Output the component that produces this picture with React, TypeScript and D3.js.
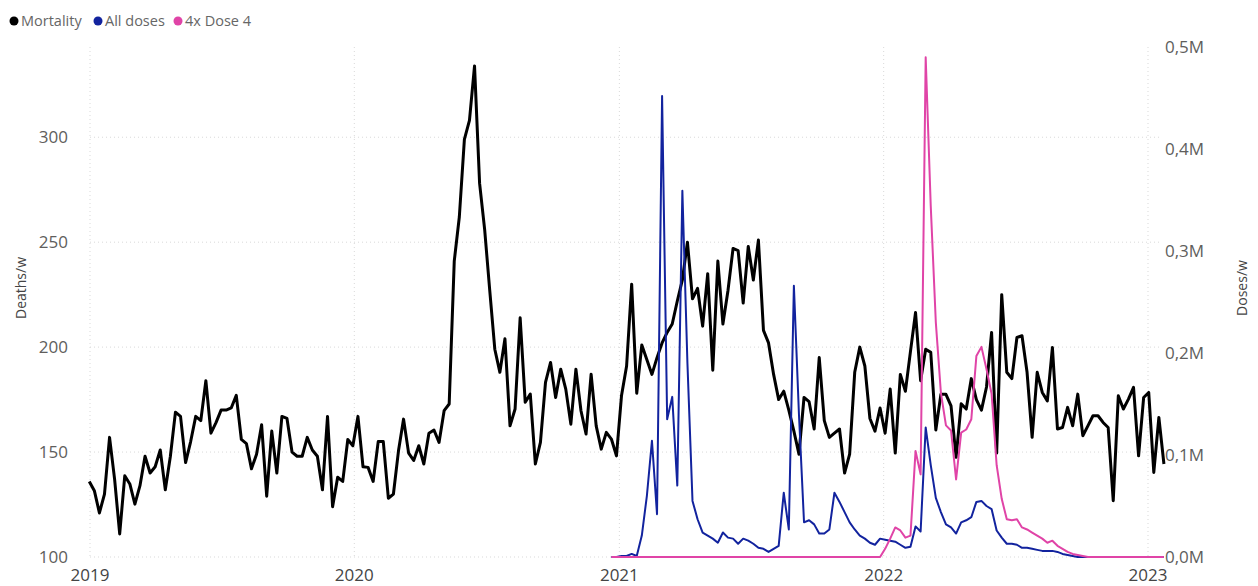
import React from 'react';
import * as d3 from 'd3';

// Weekly series, first week starting Monday 2018-12-31
const FIRST_WEEK = Date.UTC(2018, 11, 31);

const mortality: number[] = [
  // 2019
  136, 131.6, 121, 130, 157, 137, 111, 138.7, 134.8, 125.2,
  134, 148, 140, 143, 151, 132, 148, 169, 167, 145,
  155, 167, 165, 184, 159, 164, 170, 170, 171, 177,
  156, 154, 142, 149, 163, 129, 160, 140, 167, 166,
  150, 148, 148, 157, 151, 148, 132, 167, 124, 138,
  136, 156, 153, 167, 143, 142.7, 136, 155, 155, 128,
  // 2020
  130, 150.6, 165.7, 149.5, 146, 153, 144.3, 159, 160.5, 154.6,
  169.7, 172.9, 241, 262, 299, 308, 334, 278, 256, 227,
  199, 188, 204, 162.5, 170.5, 214, 173.7, 177.6, 144.3, 154.6,
  183.2, 192.7, 176, 189.5, 180, 163.3, 189.5, 169.7, 158.6, 187.1,
  162.5, 151.4, 159.4, 156.2, 148.2, 177, 191, 230, 178, 201,
  // 2021
  194, 187, 195, 202, 207, 211, 222, 232, 250, 223,
  228, 210, 235, 189, 241, 211, 227, 247, 246, 221,
  248, 232, 251, 208, 202, 187, 175, 179, 170, 160,
  149, 176, 174, 161, 195, 165, 157, 159, 161, 140,
  149, 188, 200, 191, 166, 160, 171, 159, 180, 149.5,
  // 2022
  187, 179, 198, 216.5, 184, 199, 197.5, 160.5, 177.5, 177.5,
  172, 147.5, 173, 170.5, 185, 175, 170, 181, 207, 149.5,
  225, 188, 185, 204.6, 205.4, 188, 157, 188, 178.4, 174.4,
  199.8, 161, 161.7, 171.3, 162.5, 177.6, 157.8, 162.5, 167.3, 167.3,
  164.1, 161.7, 126.8, 176.8, 170.5, 175.2, 180.8, 148.2, 176, 178.4,
  140.3, 166.5, 144.3,
];

// Dose series start at week index 103 (early 2021), values in millions
const DOSE_START = 103;
const allDoses: number[] = [
  0, 0, 0.001, 0.001, 0.003, 0.001, 0.021, 0.06, 0.114, 0.042,
  0.452, 0.135, 0.157, 0.07, 0.359, 0.19, 0.055, 0.037, 0.024, 0.021,
  0.018, 0.014, 0.024, 0.019, 0.018, 0.013, 0.018, 0.016, 0.013, 0.009,
  0.008, 0.005, 0.008, 0.011, 0.063, 0.027, 0.266, 0.14, 0.034, 0.036,
  0.032, 0.023, 0.023, 0.027, 0.063, 0.054, 0.044, 0.034, 0.027, 0.021,
  0.018, 0.014, 0.012, 0.018, 0.017, 0.016, 0.015, 0.012, 0.009, 0.01,
  0.03, 0.025, 0.127, 0.09, 0.058, 0.044, 0.032, 0.029, 0.023, 0.034,
  0.036, 0.039, 0.054, 0.055, 0.05, 0.047, 0.026, 0.019, 0.013, 0.013,
  0.012, 0.009, 0.009, 0.008, 0.007, 0.006, 0.006, 0.006, 0.005, 0.003,
  0.002, 0.001, 0, 0, 0, 0, 0, 0, 0, 0,
  0, 0, 0, 0, 0, 0, 0, 0, 0, 0,
];

const dose4x: number[] = [
  0, 0, 0, 0, 0, 0, 0, 0, 0, 0,
  0, 0, 0, 0, 0, 0, 0, 0, 0, 0,
  0, 0, 0, 0, 0, 0, 0, 0, 0, 0,
  0, 0, 0, 0, 0, 0, 0, 0, 0, 0,
  0, 0, 0, 0, 0, 0, 0, 0, 0, 0,
  0, 0, 0, 0, 0.008, 0.018, 0.029, 0.026, 0.019, 0.021,
  0.104, 0.081, 0.49, 0.344, 0.23, 0.161, 0.129, 0.124, 0.076, 0.122,
  0.125, 0.135, 0.197, 0.206, 0.184, 0.16, 0.09, 0.057, 0.037, 0.036,
  0.037, 0.029, 0.027, 0.024, 0.021, 0.018, 0.014, 0.016, 0.011, 0.008,
  0.005, 0.003, 0.002, 0.001, 0, 0, 0, 0, 0, 0,
  0, 0, 0, 0, 0, 0, 0, 0, 0, 0,
];

const yearTicks = [2019, 2020, 2021, 2022, 2023];
const leftTicks = [100, 150, 200, 250, 300];
const rightTicks = [0, 0.1, 0.2, 0.3, 0.4, 0.5];

const legendItems = [
  { label: 'Mortality', color: '#000000' },
  { label: 'All doses', color: '#12239E' },
  { label: '4x Dose 4', color: '#E044A7' },
];

const FONT = "'Open Sans', 'Segoe UI', sans-serif";

export default function App() {
  const W = 1258;
  const H = 586;
  const x = d3
    .scaleUtc()
    .domain([new Date(Date.UTC(2019, 0, 1)), new Date(Date.UTC(2023, 0, 1))])
    .range([90, 1148]);
  const yL = d3.scaleLinear().domain([100, 343]).range([557, 47]);
  const yR = d3.scaleLinear().domain([0, 0.5]).range([557, 47]);
  const weekDate = (i: number) => new Date(FIRST_WEEK + i * 7 * 864e5);

  const mortLine = d3
    .line<number>()
    .x((_, i) => x(weekDate(i)))
    .y((d) => yL(d))
    .curve(d3.curveLinear);
  const doseLine = d3
    .line<number>()
    .x((_, i) => x(weekDate(DOSE_START + i)))
    .y((d) => yR(d));

  const fmtR = (v: number) => v.toFixed(1).replace('.', ',') + 'M';
  const legendX = [10, 94, 174];

  return (
    <svg
      width={W}
      height={H}
      style={{ position: 'absolute', left: 0, top: 0, background: '#fff' }}
      fontFamily={FONT}
    >
      <rect x={0} y={0} width={W} height={H} fill="#fff" />
      {/* gridlines */}
      {leftTicks.map((t) => (
        <line
          key={'gl' + t}
          x1={90}
          x2={1162}
          y1={yL(t)}
          y2={yL(t)}
          stroke="#d9d9d9"
          strokeWidth={1}
          strokeDasharray="1 3"
        />
      ))}
      {yearTicks.map((yr) => (
        <line
          key={'gv' + yr}
          x1={x(new Date(Date.UTC(yr, 0, 1)))}
          x2={x(new Date(Date.UTC(yr, 0, 1)))}
          y1={47}
          y2={557}
          stroke="#d9d9d9"
          strokeWidth={1}
          strokeDasharray="1 3"
        />
      ))}

      {/* left axis */}
      {leftTicks.map((t) => (
        <text
          key={'lt' + t}
          x={68}
          y={yL(t)}
          dy="0.35em"
          textAnchor="end"
          fontSize={17}
          fill="#605E5C"
        >
          {t}
        </text>
      ))}
      <text
        transform={`translate(26,288) rotate(-90)`}
        textAnchor="middle"
        fontSize={14}
        fill="#444"
      >
        Deaths/w
      </text>

      {/* right axis */}
      {rightTicks.map((t) => (
        <text
          key={'rt' + t}
          x={1165}
          y={yR(t)}
          dy="0.35em"
          textAnchor="start"
          fontSize={17}
          fill="#605E5C"
        >
          {fmtR(t)}
        </text>
      ))}
      <text
        transform={`translate(1247,288) rotate(-90)`}
        textAnchor="middle"
        fontSize={14}
        fill="#444"
      >
        Doses/w
      </text>

      {/* x axis */}
      {yearTicks.map((yr) => (
        <text
          key={'xt' + yr}
          x={x(new Date(Date.UTC(yr, 0, 1)))}
          y={581}
          textAnchor="middle"
          fontSize={17}
          fill="#444"
        >
          {yr}
        </text>
      ))}

      {/* series */}
      <path
        d={mortLine(mortality) || ''}
        fill="none"
        stroke="#000"
        strokeWidth={3}
        strokeLinejoin="round"
      />
      <path
        d={doseLine(allDoses) || ''}
        fill="none"
        stroke="#12239E"
        strokeWidth={2}
        strokeLinejoin="round"
      />
      <path
        d={doseLine(dose4x) || ''}
        fill="none"
        stroke="#E044A7"
        strokeWidth={2}
        strokeLinejoin="round"
      />

      {/* legend */}
      {legendItems.map((it, i) => (
        <g key={it.label}>
          <circle cx={legendX[i] + 4} cy={21} r={4.5} fill={it.color} />
          <text x={legendX[i] + 11} y={21} dy="0.35em" fontSize={14.5} fill="#666">
            {it.label}
          </text>
        </g>
      ))}
    </svg>
  );
}
